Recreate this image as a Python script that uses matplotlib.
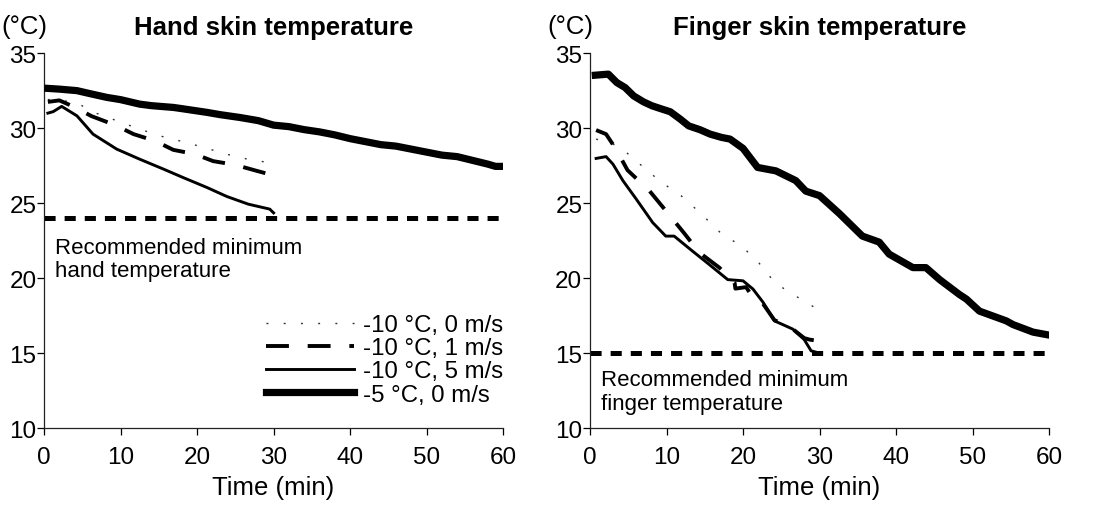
import matplotlib
matplotlib.use("Agg")
import matplotlib.pyplot as plt
from matplotlib.lines import Line2D

plt.rcParams["font.family"] = ["Liberation Sans", "DejaVu Sans"]
plt.rcParams["lines.scale_dashes"] = False

# ---------------------------------------------------------------- data --------
# hand skin temperature (deg C) vs time (min)
hand_t_m5_0 = [0.5, 2, 4.3, 6, 8.2, 10, 12.5, 14, 16.9, 18, 21.3, 23, 25.6, 28,
               30, 32, 34, 36, 38, 40, 42, 44, 46, 48, 50, 52, 54, 56, 58, 59, 60]
hand_T_m5_0 = [32.65, 32.6, 32.5, 32.3, 32.05, 31.9, 31.6, 31.5, 31.38, 31.3,
               31.05, 30.9, 30.71, 30.5, 30.2, 30.1, 29.9, 29.75, 29.55, 29.3,
               29.1, 28.9, 28.8, 28.6, 28.4, 28.2, 28.1, 27.85, 27.6, 27.45, 27.45]
hand_t_m10_5 = [0.5, 1.2, 2.3, 4.3, 6.4, 9.5, 12.5, 15.6, 18.2, 21.3, 23.9,
                26.7, 29.5, 30]
hand_T_m10_5 = [31.0, 31.1, 31.45, 30.82, 29.6, 28.6, 27.93, 27.27, 26.7,
                26.04, 25.44, 24.93, 24.6, 24.35]
hand_t_m10_1 = [0.5, 2.0, 4.0, 6.2, 9.3, 11.7, 14.5, 16.9, 19.7, 22.1, 25.0,
                27.8, 30]
hand_T_m10_1 = [31.75, 31.85, 31.4, 30.8, 30.2, 29.6, 29.15, 28.55, 28.27,
                27.8, 27.55, 27.15, 26.85]
hand_t_m10_0 = [0.5, 1.4, 4.3, 6.9, 9.9, 12.5, 15.4, 18.2, 20.9, 23.8, 26.6,
                29.3]
hand_T_m10_0 = [31.9, 31.93, 31.67, 30.98, 30.42, 29.93, 29.45, 29.09, 28.71,
                28.27, 27.93, 27.71]

# finger skin temperature (deg C) vs time (min)
fing_t_m5_0 = [0.7, 2.4, 3.5, 4.6, 5.7, 7.0, 8.1, 9.4, 10.5, 11.8, 12.9, 14.4,
               15.7, 17.2, 18.3, 20.0, 21.9, 24.3, 26.9, 28.2, 30.0, 32.6, 35.6,
               37.8, 39.1, 42.2, 43.9, 45.7, 48.3, 49.2, 50.9, 54.4, 55.3, 57.9,
               60]
fing_T_m5_0 = [33.53, 33.6, 33.04, 32.7, 32.15, 31.75, 31.49, 31.27, 31.09,
               30.6, 30.15, 29.89, 29.6, 29.38, 29.27, 28.65, 27.38, 27.15, 26.5,
               25.8, 25.5, 24.3, 22.8, 22.4, 21.6, 20.7, 20.7, 19.9, 18.9, 18.6,
               17.8, 17.15, 16.9, 16.4, 16.2]
fing_t_m10_5 = [0.8, 2.1, 3.0, 4.3, 6.0, 8.2, 9.9, 11.0, 13.4, 15.6, 18.0,
                20.0, 21.3, 22.6, 24.1, 25.2, 26.5, 28.0, 28.9, 30.0]
fing_T_m10_5 = [27.98, 28.1, 27.6, 26.5, 25.3, 23.7, 22.8, 22.8, 21.8, 20.9,
                19.9, 19.82, 19.27, 18.4, 17.15, 16.9, 16.6, 15.9, 15.15, 15.0]
fing_t_m10_1 = [0.8, 2.1, 3.4, 4.9, 7.8, 9.9, 12.3, 14.3, 16.9, 18.9, 19.0,
                20.4, 21.3, 22.6, 24.1, 25.2, 26.5, 28.0, 28.7, 30.0]
fing_T_m10_1 = [29.87, 29.6, 28.6, 27.2, 25.8, 24.5, 23.0, 21.7, 20.7, 19.7,
                19.3, 19.4, 18.7, 18.3, 17.2, 16.95, 16.6, 16.0, 15.9, 15.8]
fing_t_m10_0 = [0.8, 3.8, 6.4, 9.3, 11.9, 14.5, 17.1, 19.9, 22.1, 24.2, 26.9,
                29.5, 30]
fing_T_m10_0 = [29.27, 28.8, 27.65, 26.4, 25.5, 24.3, 23.0, 22.1, 21.0, 19.67,
                18.8, 18.0, 17.8]

labels = ["-10 °C, 0 m/s", "-10 °C, 1 m/s", "-10 °C, 5 m/s", "-5 °C, 0 m/s"]
hand_limit = 24
fing_limit = 15

# ---------------------------------------------------------------- styles ------
STY = [
    dict(color="#333333", lw=1.0, dashes=(1.4, 11)),   # -10, 0 m/s dotted
    dict(color="black", lw=2.8, dashes=(16.5, 13.5)),  # -10, 1 m/s dashed
    dict(color="black", lw=2.1),                       # -10, 5 m/s thin
    dict(color="black", lw=5.2),                       # -5, 0 m/s thick
]

fig = plt.figure(figsize=(10.93, 5.06), dpi=100)
ax1 = fig.add_axes([0.0403, 0.152, 0.420, 0.741])
ax2 = fig.add_axes([0.5398, 0.152, 0.420, 0.741])


def style_axes(ax, title):
    ax.set_xlim(0, 60)
    ax.set_ylim(10, 35)
    ax.set_xticks(range(0, 61, 10))
    ax.set_yticks(range(10, 36, 5))
    for sp in ("top", "right"):
        ax.spines[sp].set_visible(False)
    for sp in ("left", "bottom"):
        ax.spines[sp].set_linewidth(0.9)
        ax.spines[sp].set_color("#222222")
    ax.tick_params(axis="y", direction="out", length=5, width=0.9,
                   labelsize=17.5, pad=0.5)
    ax.tick_params(axis="x", direction="out", length=5, width=0.9,
                   labelsize=17.5, pad=8)
    ax.set_xlabel("Time (min)", fontsize=18.5, labelpad=5)
    ax.set_title(title, fontsize=18.5, fontweight="bold", pad=13.5)
    ax.text(-0.092, 1.072, "(°C)", transform=ax.transAxes, fontsize=18.5,
            ha="left", va="center")


series_hand = [(hand_t_m10_0, hand_T_m10_0), (hand_t_m10_1, hand_T_m10_1),
               (hand_t_m10_5, hand_T_m10_5), (hand_t_m5_0, hand_T_m5_0)]
series_fing = [(fing_t_m10_0, fing_T_m10_0), (fing_t_m10_1, fing_T_m10_1),
               (fing_t_m10_5, fing_T_m10_5), (fing_t_m5_0, fing_T_m5_0)]

for ax, series, lim in ((ax1, series_hand, hand_limit),
                        (ax2, series_fing, fing_limit)):
    ax.plot([0, 60], [lim, lim], color="black", lw=3.6, dashes=(8, 6.5),
            solid_capstyle="butt", zorder=1)
    for (t, T), st in zip(series, STY):
        ax.plot(t, T, solid_joinstyle="round", zorder=3, **st)

style_axes(ax1, "Hand skin temperature")
style_axes(ax2, "Finger skin temperature")

ax1.text(1.4, 21.3, "Recommended minimum\nhand temperature", fontsize=16,
         ha="left", va="center", linespacing=1.12)
ax2.text(1.4, 12.45, "Recommended minimum\nfinger temperature", fontsize=16,
         ha="left", va="center", linespacing=1.15)

handles = [Line2D([0], [0], **st) for st in STY]
ax1.legend(handles, labels, loc="lower right", bbox_to_anchor=(1.0, 0.06),
           frameon=False, fontsize=17.3, handlelength=3.66, handletextpad=0.38,
           labelspacing=0.05, borderaxespad=0, borderpad=0)

fig.savefig("out.png", dpi=100)
